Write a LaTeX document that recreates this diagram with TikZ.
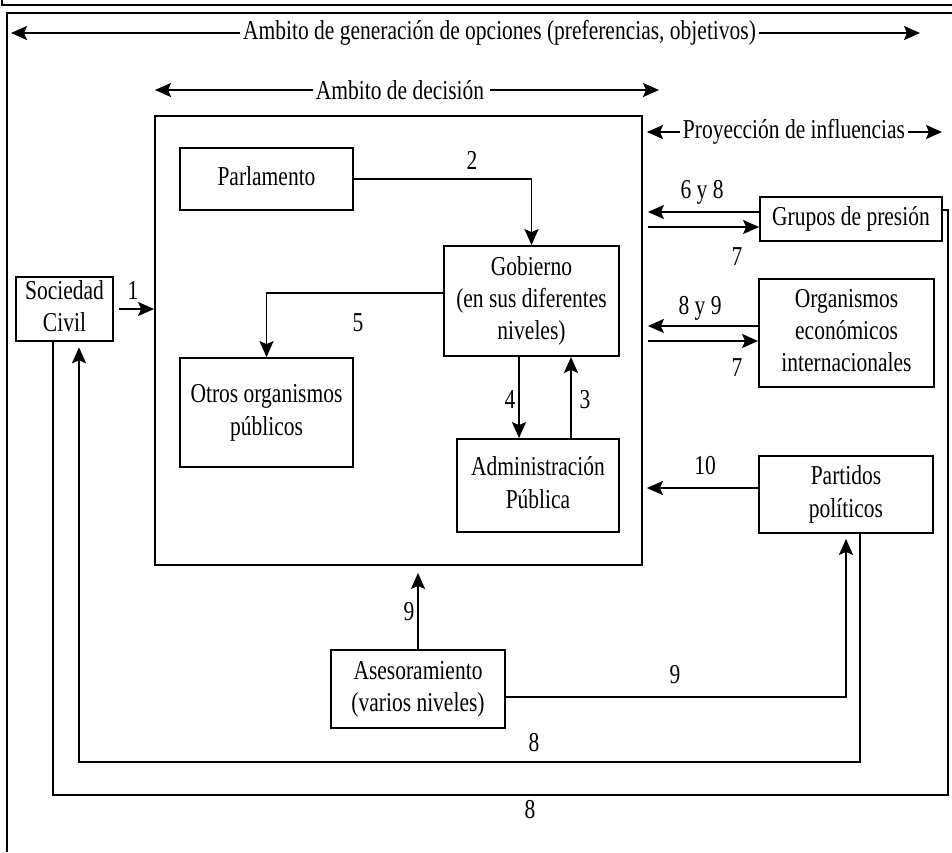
\documentclass[tikz,border=0pt]{standalone}
\usepackage{fontspec}
\setmainfont{Liberation Serif}
\usepackage{graphicx}
\usetikzlibrary{arrows.meta}
\newcommand{\tx}[1]{\scalebox{1}[1.27]{\begin{tabular}{@{}c@{}}#1\end{tabular}}}
\newcommand{\lb}[1]{\scalebox{1}[1.27]{#1}}
\begin{document}
\begin{tikzpicture}[x=1pt,y=-1pt,
  every node/.style={font=\fontsize{21.5}{25.5}\selectfont, inner sep=0pt},
  box/.style={draw, line width=1.8pt, rectangle, anchor=center},
  arr/.style={line width=1.8pt, -{Stealth[length=16pt,width=14pt,inset=3pt]}},
  ln/.style={line width=1.8pt},
  frame/.style={line width=2.8pt}]
\useasboundingbox (0,0) rectangle (952,852);
% frame
\draw[line width=2pt] (2,0) -- (2,5) -- (952,5);
\draw[frame] (952,13) -- (7,13) -- (7,852);
% top scope arrows
\node (t1) at (499.5,33) {\lb{Ambito de generación de opciones (preferencias, objetivos)}};
\coordinate (a1L) at (11,33); \coordinate (a1R) at (920,33);
\draw[arr] ([xshift=-3pt]t1.west) -- (a1L);
\draw[arr] ([xshift=3pt]t1.east) -- (a1R);
\node (t2) at (400,90) {\lb{Ambito de decisión}};
\coordinate (a2L) at (155,90); \coordinate (a2R) at (659,90);
\draw[arr] ([xshift=-3pt]t2.west) -- (a2L);
\draw[arr] ([xshift=6pt]t2.east) -- (a2R);
\node (t3) at (794,132) {\lb{Proyección de influencias}};
\coordinate (a3L) at (647,132); \coordinate (a3R) at (942,132);
\draw[arr] ([xshift=-3pt]t3.west) -- (a3L);
\draw[arr] ([xshift=3pt]t3.east) -- (a3R);
% boxes
\node[box, minimum width=487pt, minimum height=449pt] (big) at (398.5,340.5) {};
\node[box, minimum width=173pt, minimum height=62pt] (parl) at (266.5,179) {\tx{Parlamento}};
\node[box, minimum width=175pt, minimum height=110pt] (gob) at (531.5,301) {\tx{Gobierno\\(en sus diferentes\\niveles)}};
\node[box, minimum width=173pt, minimum height=109pt] (otros) at (266.5,412.5) {\tx{Otros organismos\\públicos}};
\node[box, minimum width=162pt, minimum height=93pt] (admin) at (538,485.5) {\tx{Administración\\Pública}};
\node[box, minimum width=97pt, minimum height=62pt] (soc) at (64.5,309) {\tx{Sociedad\\Civil}};
\node[box, minimum width=182pt, minimum height=44pt] (grupos) at (851,219) {\tx{Grupos de presión}};
\node[box, minimum width=175pt, minimum height=108pt] (org) at (846.5,333) {\tx{Organismos\\económicos\\internacionales}};
\node[box, minimum width=174pt, minimum height=77pt] (part) at (846,494.5) {\tx{Partidos\\políticos}};
\node[box, minimum width=174pt, minimum height=78pt] (ases) at (418,689) {\tx{Asesoramiento\\(varios niveles)}};
% helper coordinates
\coordinate (x4) at (519,0);
\coordinate (x3) at (571,0);
\coordinate (y762) at (0,762);
\coordinate (y795) at (0,795);
\coordinate (x948) at (948,0);
% connectors
\draw[arr] ([xshift=5pt]soc.east) -- (soc.east -| big.west);
\draw[arr] (parl.east) -| (gob.north);
\draw[arr] ([yshift=8pt]gob.west) -| (otros.north);
\draw[arr] (gob.south -| x4) -- (admin.north -| x4);
\draw[arr] (admin.north -| x3) -- (gob.south -| x3);
\draw[arr, shorten >=5pt] ([yshift=7pt]grupos.west) -- ([yshift=7pt]grupos.west -| big.east);
\draw[arr, shorten <=5pt] ([yshift=-8pt]grupos.west -| big.east) -- ([yshift=-8pt]grupos.west);
\draw[arr, shorten >=5pt] ([yshift=7pt]org.west) -- ([yshift=7pt]org.west -| big.east);
\draw[arr, shorten <=5pt] ([yshift=-8pt]org.west -| big.east) -- ([yshift=-8pt]org.west);
\draw[arr, shorten >=4pt] ([yshift=6.5pt]part.west) -- ([yshift=6.5pt]part.west -| big.east);
\draw[arr, shorten >=7pt] (ases.north) -- (ases.north |- big.south);
\draw[arr, shorten >=5pt] ([yshift=-8pt]ases.east) -| (part.south);
\coordinate (p8) at ([xshift=14pt]part.south);
\coordinate (s8) at ([xshift=14.5pt]soc.south);
\draw[arr, shorten >=5pt] (p8) -- (p8 |- y762) -- (s8 |- y762) -- (s8);
\coordinate (g8) at ([yshift=9pt]grupos.east);
\coordinate (s9) at ([xshift=-11.5pt]soc.south);
\draw[ln] (g8) -- (g8 -| x948) -- (x948 |- y795) -- (s9 |- y795) -- (s9);
% labels
\node (l1) at (133,290) {\lb{1}};
\node (l2) at (472,160) {\lb{2}};
\node (l5) at (358,323) {\lb{5}};
\node (l4) at (510,400) {\lb{4}};
\node (l3) at (585,400) {\lb{3}};
\node (l68) at (702,192) {\lb{6 y 8}};
\node (l7a) at (737,257) {\lb{7}};
\node (l89) at (700,308) {\lb{8 y 9}};
\node (l7b) at (737,368) {\lb{7}};
\node (l10) at (705,466) {\lb{10}};
\node (l9a) at (409,612) {\lb{9}};
\node (l9b) at (675,675) {\lb{9}};
\node (l8a) at (534,743) {\lb{8}};
\node (l8b) at (530,810) {\lb{8}};
\end{tikzpicture}
\end{document}
